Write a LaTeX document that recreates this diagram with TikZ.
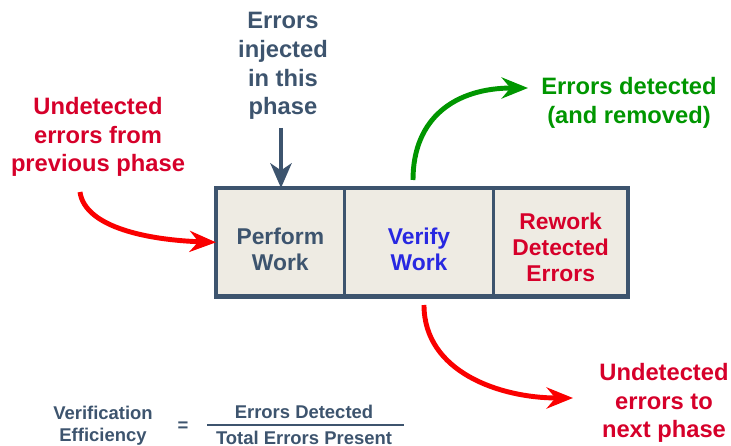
\documentclass[tikz,border=0pt]{standalone}
\usepackage{fontspec}
\setmainfont{Liberation Sans}
\usetikzlibrary{arrows.meta}

\definecolor{slate}{RGB}{61,84,110}
\definecolor{errred}{RGB}{214,0,42}
\definecolor{arrred}{RGB}{250,0,0}
\definecolor{okgreen}{RGB}{0,150,0}
\definecolor{vblue}{RGB}{40,40,225}
\definecolor{boxfill}{RGB}{238,235,227}

\tikzset{
    label/.style={align=center, font=\fontsize{13.5}{16.4}\selectfont\bfseries},
    small/.style={align=center, font=\fontsize{10.5}{12.5}\selectfont\bfseries, text=slate},
    cell/.style={fill=boxfill, minimum height=2.16cm, inner sep=0pt},
    celltext/.style={align=center, font=\fontsize{13}{14.8}\selectfont\bfseries},
    flow/.style={line width=2.8pt, -{Stealth[length=15pt,width=12pt,inset=5pt]}}
}

\begin{document}
\begin{tikzpicture}[x=0.02cm, y=-0.02cm]
    \useasboundingbox (0,0) rectangle (731,446);

    % the three steps of one phase
    \node[cell, minimum width=2.56cm, anchor=north west] (perform) at (216,188) {};
    \node[cell, minimum width=2.96cm, anchor=west] (verify) at (perform.east) {};
    \node[cell, minimum width=2.68cm, anchor=west] (rework) at (verify.east) {};
    \node[celltext, text=slate] (performtxt) at ([yshift=-4pt]perform.center) {Perform\\Work};
    \node[celltext, text=vblue] (verifytxt) at ([yshift=-4pt]verify.center) {Verify\\Work};
    \node[celltext, text=errred] (reworktxt) at ([yshift=-3pt]rework.center) {Rework\\Detected\\Errors};
    % frame and dividers
    \draw[slate, line width=1.6pt] (perform.north east) -- (perform.south east);
    \draw[slate, line width=1.6pt] (verify.north east) -- (verify.south east);
    \draw[slate, line width=2.8pt] (perform.north west) rectangle (rework.south east);

    % labels round the box
    \node[label, text=slate] (injected) at (283,66) {Errors\\injected\\in this\\phase};
    \node[label, text=errred] (previous) at (98,137) {Undetected\\errors from\\previous phase};
    \node[label, text=okgreen] (detected) at (629,103) {Errors detected\\(and removed)};
    \node[label, text=errred] (next) at (664,403) {Undetected\\errors to\\next phase};

    % errors coming in
    \coordinate (injtop) at (281,128);
    \draw[slate, line width=2.8pt, -{Stealth[length=14pt,width=12pt,inset=4pt]}] (injtop) -- (injtop |- perform.north);
    \coordinate (prevstart) at (80,192);
    \draw[flow, arrred] (prevstart) .. controls (85,228) and (150,240) .. (perform.west);

    % errors going out
    \coordinate (detstart) at (413,180);
    \coordinate (detend) at (528,88);
    \draw[flow, okgreen] (detstart) .. controls (413,118) and (455,88) .. (detend);
    \coordinate (nextstart) at (424,305);
    \coordinate (nextend) at (573,398);
    \draw[flow, arrred] (nextstart) .. controls (424,372) and (500,398) .. (nextend);

    % efficiency formula
    \node[small] (eff) at (103,426) {Verification\\Efficiency};
    \node[small] (eq) at (183,427) {=};
    \node[small] (num) at (304,412) {Errors Detected};
    \node[small] (den) at (304,438) {Total Errors Present};
    \draw[slate, line width=1pt] (num.south -| 207,0) -- (num.south -| 404,0);
\end{tikzpicture}
\end{document}
